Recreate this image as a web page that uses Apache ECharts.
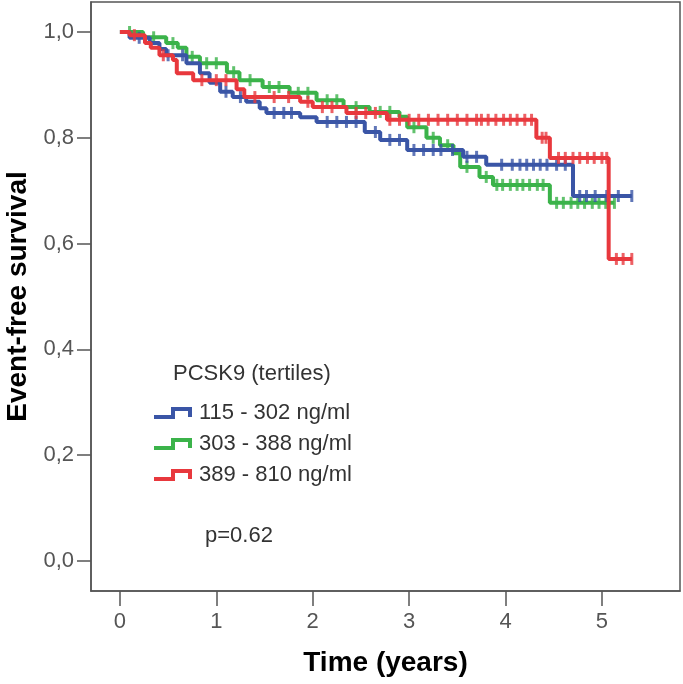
<!DOCTYPE html>
<html><head><meta charset="utf-8">
<script src="https://cdn.jsdelivr.net/npm/echarts@6/dist/echarts.min.js"></script>
<style>html,body{margin:0;padding:0;background:#fff}#c{width:683px;height:684px}</style>
</head><body><div id="c"></div>
<script>
// Kaplan-Meier steps: [time (years), survival after the step]
const seriesNames = ['115 - 302 ng/ml', '303 - 388 ng/ml', '389 - 810 ng/ml'];
const blueSteps = [[0,1],[0.1,0.989],[0.31,0.979],[0.41,0.968],[0.48,0.956],[0.69,0.941],[0.83,0.922],[0.93,0.904],[1.04,0.887],[1.17,0.877],[1.31,0.868],[1.45,0.856],[1.52,0.847],[1.87,0.839],[2.04,0.83],[2.54,0.811],[2.7,0.796],[2.98,0.777],[3.56,0.764],[3.8,0.749],[4.7,0.69],[5.31,0.69]];
const greenSteps = [[0,1],[0.24,0.99],[0.48,0.979],[0.6,0.97],[0.69,0.953],[0.83,0.941],[1.11,0.924],[1.24,0.909],[1.48,0.896],[1.76,0.885],[2.04,0.871],[2.32,0.858],[2.59,0.849],[2.9,0.84],[2.98,0.82],[3.18,0.8],[3.32,0.786],[3.46,0.771],[3.53,0.745],[3.73,0.726],[3.87,0.711],[4.46,0.677],[5.13,0.677]];
const redSteps = [[0,1],[0.1,0.994],[0.26,0.979],[0.32,0.97],[0.41,0.956],[0.55,0.947],[0.59,0.922],[0.76,0.909],[1.21,0.892],[1.29,0.877],[1.87,0.868],[2.0,0.858],[2.35,0.847],[2.77,0.834],[4.32,0.8],[4.46,0.762],[5.07,0.571],[5.31,0.571]];
// censoring times
const blueCensor = [0.2,0.5,0.65,1.1,1.25,1.6,1.7,1.78,2.15,2.25,2.35,2.45,2.65,2.8,2.9,3.05,3.15,3.25,3.33,3.45,3.6,3.7,3.96,4.07,4.15,4.22,4.29,4.36,4.43,4.53,4.62,4.77,4.84,4.93,5.05,5.17,5.31];
const greenCensor = [0.1,0.35,0.55,0.75,0.9,1.0,1.18,1.35,1.55,1.65,1.85,1.95,2.15,2.25,2.45,2.7,2.8,3.05,3.25,3.4,3.6,3.8,3.91,3.97,4.05,4.12,4.18,4.25,4.33,4.39,4.53,4.6,4.68,4.75,4.82,4.9,4.97,5.04,5.13];
const redCensor = [0.15,0.45,0.85,1.0,1.1,1.4,1.6,1.75,1.95,2.1,2.2,2.45,2.55,2.65,2.8,2.9,3.0,3.1,3.2,3.3,3.4,3.5,3.6,3.7,3.75,3.82,3.9,3.98,4.05,4.12,4.2,4.27,4.38,4.42,4.55,4.62,4.7,4.77,4.85,4.92,5.0,5.05,5.15,5.22,5.31];
const xTicks = [0,1,2,3,4,5];
const yTicks = [0,0.2,0.4,0.6,0.8,1.0];
const legendTitle = 'PCSK9 (tertiles)';
const pText = 'p=0.62';

const colors = ['#3a55a6', '#3bb34a', '#e8383d'];
const FONT = "'Liberation Sans', Arial, sans-serif";

function survAt(steps, t) {
  let s = steps[0][1];
  for (const [tt, v] of steps) { if (tt <= t) s = v; else break; }
  return s;
}
const stepsAll = [blueSteps, greenSteps, redSteps];
const censAll = [blueCensor, greenCensor, redCensor];
const zs = [3, 2, 4];
const series = [];
stepsAll.forEach((st, i) => {
  series.push({
    name: seriesNames[i], type: 'line', step: 'end', data: st,
    symbol: 'none', lineStyle: { color: colors[i], width: 4 }, itemStyle: { color: colors[i] },
    z: zs[i], animation: false
  });
  series.push({
    name: seriesNames[i], type: 'scatter',
    data: censAll[i].map(t => [t, survAt(st, t)]),
    symbol: 'rect', symbolSize: [3, 12], itemStyle: { color: colors[i] },
    z: zs[i], animation: false
  });
});

const legendIcon = 'path://M0,8 L17,8 L17,0 L38,0 L38,10 L34,10 L34,4 L21,4 L21,12 L0,12 Z';
const chart = echarts.init(document.getElementById('c'), null, { renderer: 'canvas' });
chart.setOption({
  animation: false,
  textStyle: { fontFamily: FONT },
  title: [
    { text: legendTitle, left: 173, top: 363, padding: 0, textStyle: { fontSize: 22, fontWeight: 'normal', color: '#333', fontFamily: FONT } },
    { text: pText, left: 205, top: 525, padding: 0, textStyle: { fontSize: 22, fontWeight: 'normal', color: '#333', fontFamily: FONT } }
  ],
  legend: {
    orient: 'vertical', left: 154, top: 402, padding: 0, itemGap: 9,
    itemWidth: 38, itemHeight: 12,
    data: seriesNames.map((n, i) => ({ name: n, icon: legendIcon, itemStyle: { color: colors[i] } })),
    textStyle: { fontSize: 22, color: '#333', fontFamily: FONT, padding: [0, 0, 0, 2] },
    selectedMode: false
  },
  grid: { left: 91, top: 2, width: 589, height: 589, show: true, borderColor: '#555', borderWidth: 1.5, containLabel: false, outerBoundsMode: 'none' },
  xAxis: {
    type: 'value', min: -0.3, max: 5.81,
    name: 'Time (years)', nameLocation: 'middle', nameGap: 58,
    nameTextStyle: { fontSize: 28, fontWeight: 'bold', color: '#000', fontFamily: FONT },
    axisLine: { show: true, onZero: false, lineStyle: { color: '#555', width: 1.5 } },
    axisTick: { show: true, customValues: xTicks, length: 15, lineStyle: { color: '#555', width: 1.5 } },
    axisLabel: { customValues: xTicks, fontSize: 22, color: '#555', margin: 20, fontFamily: FONT },
    splitLine: { show: false }
  },
  yAxis: {
    type: 'value', min: -0.0567, max: 1.0567,
    name: 'Event-free survival', nameLocation: 'middle', nameGap: 53, nameRotate: 90,
    nameTextStyle: { fontSize: 28, fontWeight: 'bold', color: '#000', fontFamily: FONT },
    axisLine: { show: true, onZero: false, lineStyle: { color: '#555', width: 1.5 } },
    axisTick: { show: true, customValues: yTicks, length: 14, lineStyle: { color: '#555', width: 1.5 } },
    axisLabel: { customValues: yTicks, fontSize: 22, color: '#555', margin: 17, fontFamily: FONT,
      formatter: v => v.toFixed(1).replace('.', ',') },
    splitLine: { show: false }
  },
  series: series
});
</script></body></html>
